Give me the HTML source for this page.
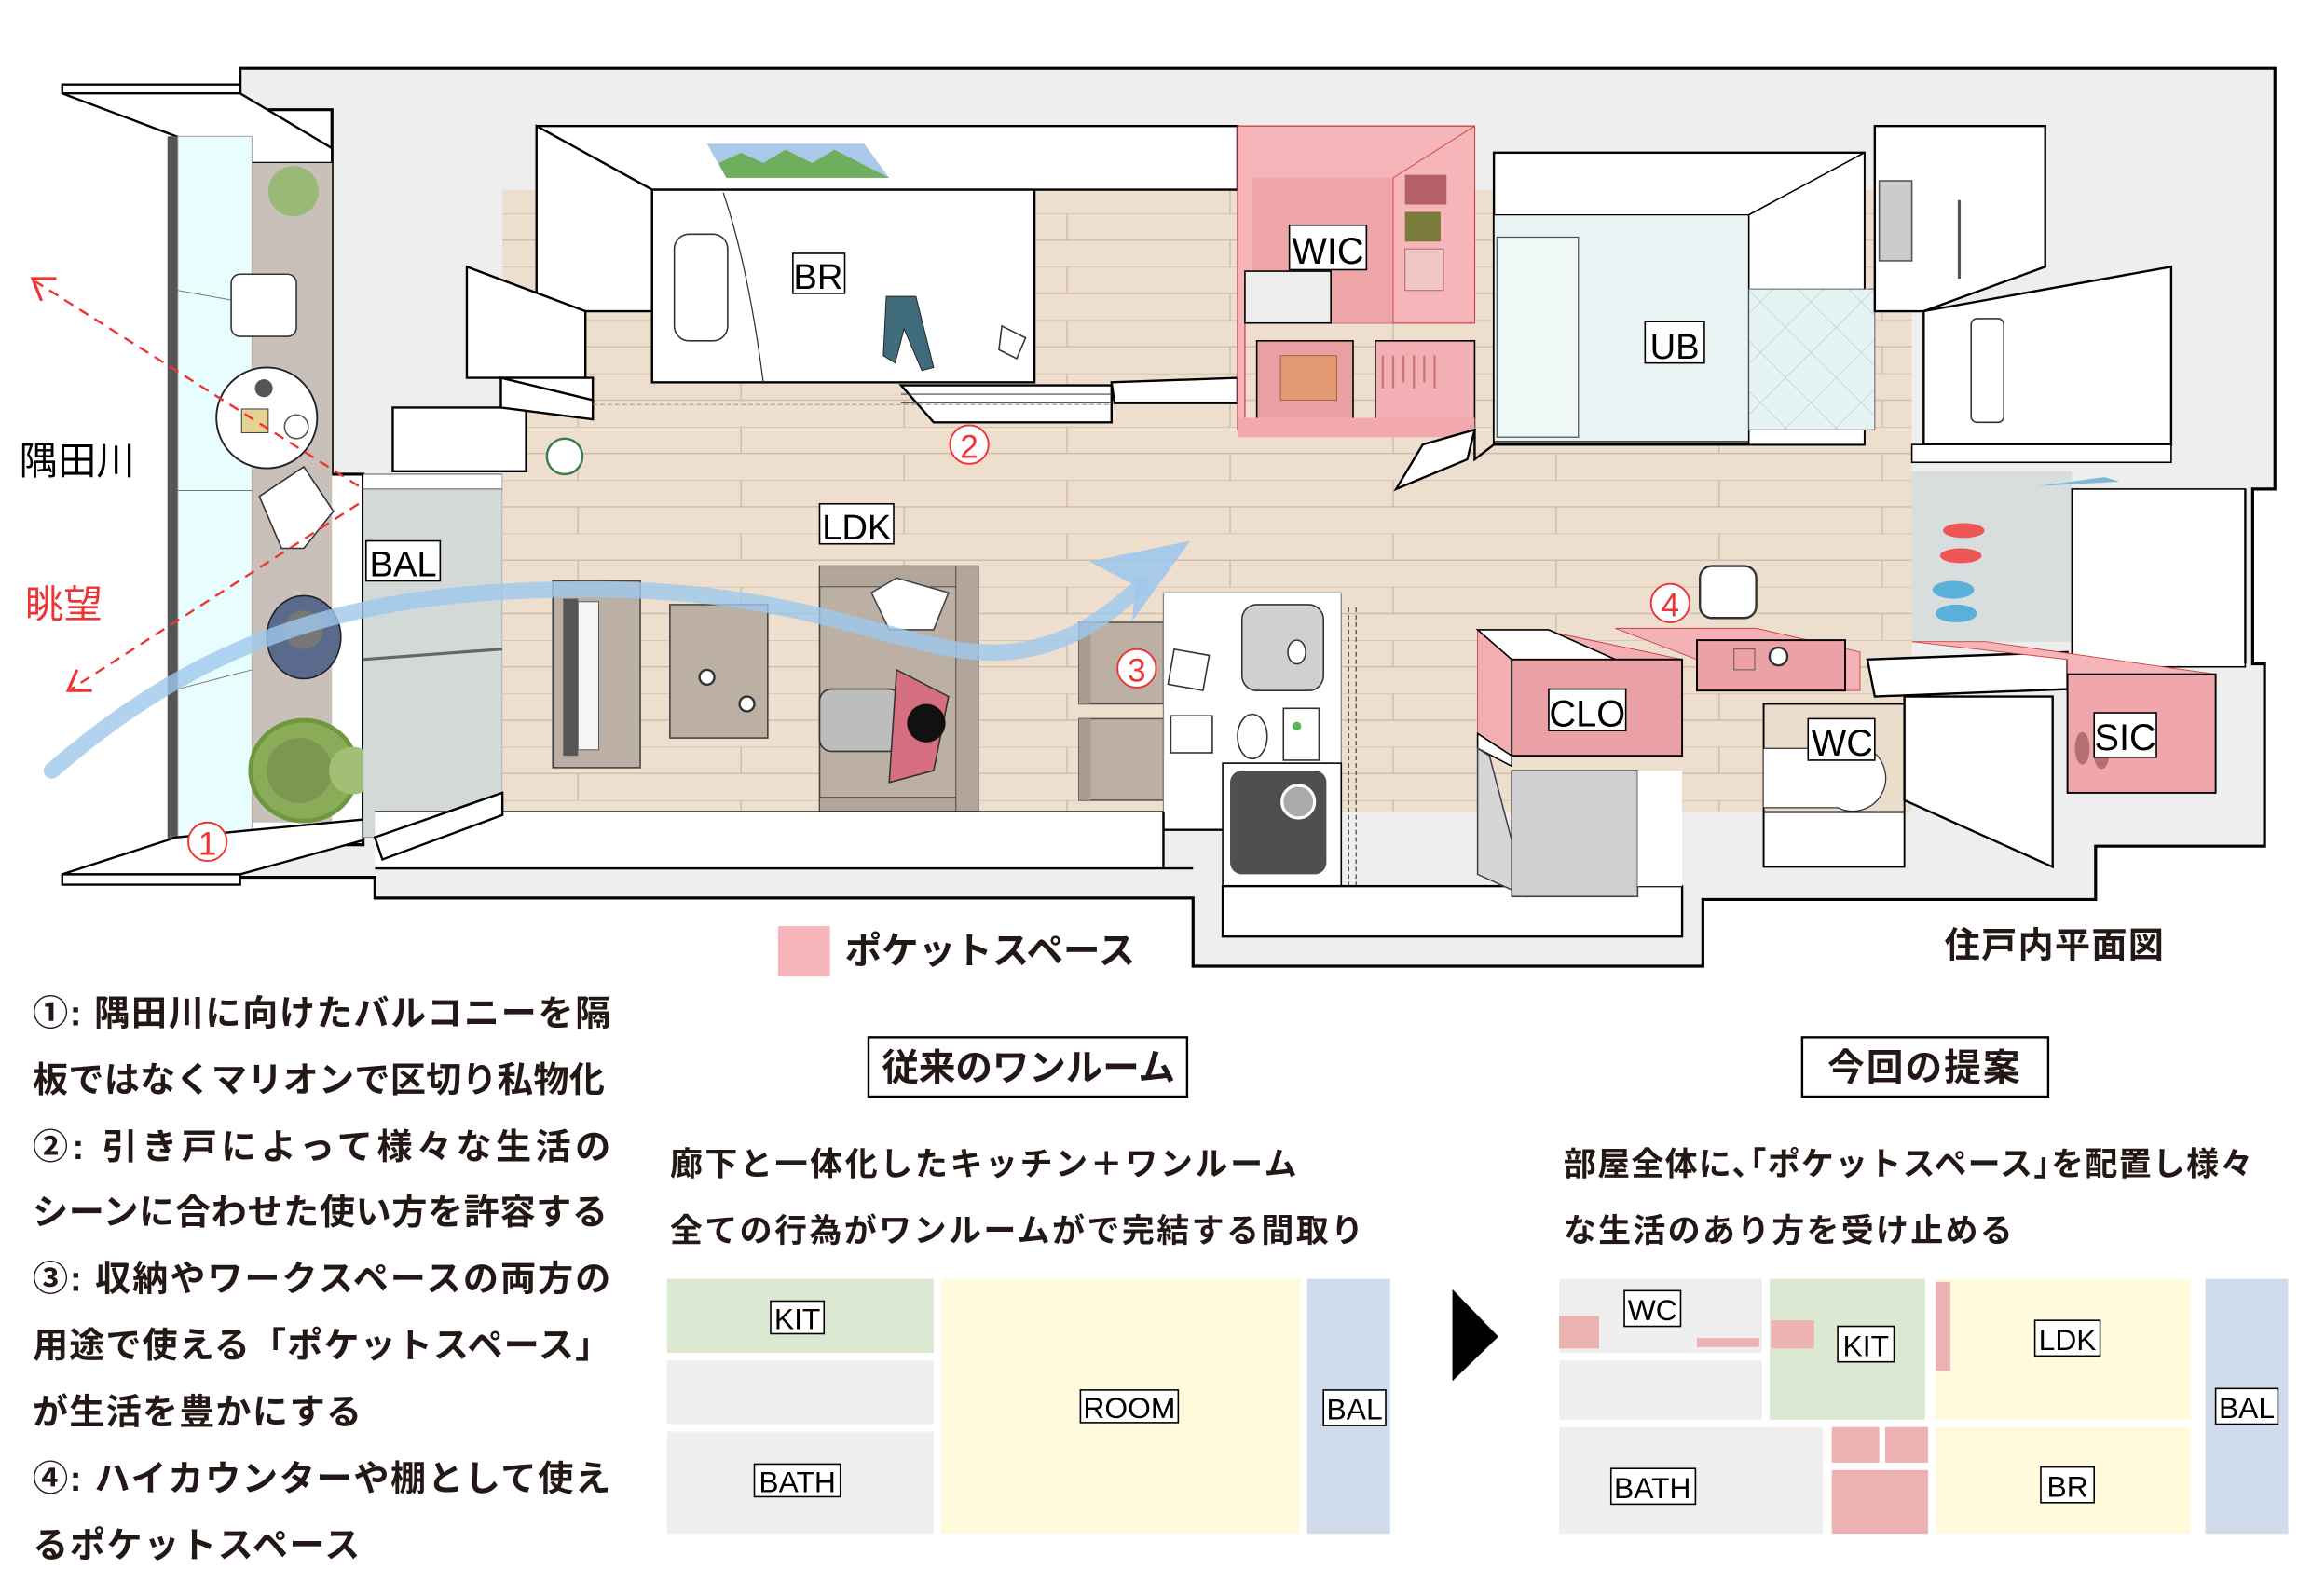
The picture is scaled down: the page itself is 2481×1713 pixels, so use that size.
<!DOCTYPE html>
<html><head><meta charset="utf-8"><style>
html,body{margin:0;padding:0;background:#fff}
svg{display:block}
.jp{font-family:"Liberation Sans","Noto Sans CJK JP",sans-serif;font-weight:bold;fill:#231815}
.lb{font-family:"Liberation Sans","Noto Sans CJK JP",sans-serif;fill:#000}
.w{fill:#fff;stroke:#000;stroke-width:1.5}
.g{fill:#eeeeee;stroke:#000;stroke-width:2}
.pk{fill:#f5b5b9;stroke:#c44;stroke-width:0.8}
.lbox{fill:#fff;stroke:#000;stroke-width:1}
</style></head><body>
<svg width="2481" height="1713" viewBox="0 0 1560 1077" preserveAspectRatio="none" xmlns="http://www.w3.org/2000/svg">
<defs>
<pattern id="wood" x="0" y="0" width="220" height="36" patternUnits="userSpaceOnUse">
<rect width="220" height="36" fill="#eddecd"/>
<line x1="0" y1="0" x2="220" y2="0" stroke="#c9b7a6" stroke-width="0.8"/>
<line x1="0" y1="18" x2="220" y2="18" stroke="#c9b7a6" stroke-width="0.8"/>
<line x1="60" y1="0" x2="60" y2="18" stroke="#c9b7a6" stroke-width="0.8"/>
<line x1="170" y1="18" x2="170" y2="36" stroke="#c9b7a6" stroke-width="0.8"/>
</pattern>
<pattern id="tile" width="24" height="24" patternUnits="userSpaceOnUse" patternTransform="rotate(45)">
<rect width="24" height="24" fill="#e6f3f3"/>
<path d="M0 0H24M0 0V24" stroke="#a9c6c8" stroke-width="0.6"/>
</pattern>
</defs>

<!-- outer wall -->
<polygon class="g" points="162,46 1535,46 1535,330 1520,330 1520,448 1528,448 1528,571 1414,571 1414,607 1149,607 1149,652 805,652 805,606 253,606 253,592 162,592 162,570 245,570 245,320 224,320 224,74 162,74"/>

<!-- balcony -->
<polygon class="w" points="42,57 162,57 162,63 42,63"/>
<polygon class="w" points="42,63 162,63 224,100 224,110 170,110 119,92"/>
<rect x="113" y="92" width="7" height="475" fill="#555"/>
<rect x="120" y="92" width="50" height="475" fill="#e8fdfd" stroke="#999" stroke-width="0.6"/>
<line x1="120" y1="196" x2="170" y2="205" stroke="#777" stroke-width="0.6"/>
<line x1="120" y1="331" x2="170" y2="331" stroke="#777" stroke-width="0.6"/>
<line x1="120" y1="465" x2="170" y2="452" stroke="#777" stroke-width="0.6"/>
<rect x="170" y="110" width="54" height="445" fill="#c8c0b9"/>
<circle cx="198" cy="129" r="17" fill="#9ab876"/>
<rect x="156" y="185" width="44" height="42" rx="6" fill="#fff" stroke="#333"/>
<circle cx="180" cy="282" r="34" fill="#fff" stroke="#222" stroke-width="1.2"/>
<circle cx="178" cy="262" r="6" fill="#555"/>
<rect x="163" y="276" width="18" height="16" fill="#e6d394" stroke="#333" stroke-width="0.6"/>
<circle cx="200" cy="288" r="8" fill="#fff" stroke="#555"/>
<polygon points="175,335 205,315 225,345 205,370 190,370" fill="#fff" stroke="#333"/>
<ellipse cx="205" cy="430" rx="25" ry="28" fill="#5a6a8d" stroke="#222"/>
<circle cx="205" cy="425" r="13" fill="#777"/>
<ellipse cx="205" cy="520" rx="36" ry="34" fill="#8aab58" stroke="#6e9840" stroke-width="3"/>
<circle cx="202" cy="520" r="22" fill="#7d9650"/>
<circle cx="238" cy="520" r="16" fill="#a1c076"/>
<polygon class="w" points="42,590 119,565 245,553 245,567 162,590"/>
<polygon class="w" points="42,590 162,590 162,597 42,597"/>

<!-- BAL area -->
<rect x="245" y="320" width="94" height="245" fill="#d3d9d6" stroke="#888" stroke-width="0.6"/>
<rect x="245" y="320" width="94" height="10" fill="#fff" stroke="#555" stroke-width="0.6"/>
<line x1="245" y1="445" x2="339" y2="438" stroke="#666" stroke-width="2"/>
<polygon class="w" points="253,565 339,535 339,548 258,580"/>

<!-- floor -->
<rect x="339" y="128" width="951" height="420" fill="url(#wood)"/>
<rect x="700" y="128" width="135" height="155" fill="url(#wood)"/>

<!-- white wall faces upper left -->
<polygon class="w" points="362,85 835,85 835,128 440,128 362,85"/>
<polygon class="w" points="362,85 440,128 440,210 362,210"/>
<polygon class="w" points="315,180 395,210 395,255 315,255"/>
<polygon class="w" points="338,255 400,255 400,275 338,275"/>
<polygon class="w" points="265,275 355,275 355,318 265,318"/>
<polygon class="w" points="338,255 400,270 400,283 338,275"/>
<!-- painting -->
<polygon points="477,97 583,97 600,120 490,120" fill="#a9c8ea"/>
<polygon points="485,110 500,103 515,110 530,101 548,110 563,101 600,120 490,120" fill="#6fae5c"/>
<!-- BR -->
<rect class="w" x="440" y="128" width="258" height="130"/>
<rect x="455" y="158" width="36" height="72" rx="10" fill="#fff" stroke="#333"/>
<path d="M488 130 Q505 180 515 258" fill="none" stroke="#333" stroke-width="0.8"/>
<path d="M598 200 L618 200 L630 248 L622 250 L610 222 L604 245 L596 240 Z" fill="#3f6b7a" stroke="#222" stroke-width="0.6"/>
<path d="M676 220 L692 228 L686 242 L674 236 Z" fill="#fff" stroke="#333"/>
<rect x="535" y="171" width="35" height="27" class="lbox"/>
<text x="552" y="195" class="lb" font-size="24" text-anchor="middle">BR</text>
<!-- sliding doors -->
<polygon class="w" points="608,260 750,260 750,285 630,285"/>
<line x1="608" y1="266" x2="750" y2="266" stroke="#444" stroke-width="0.7"/>
<line x1="608" y1="272" x2="750" y2="272" stroke="#444" stroke-width="0.7"/>
<polygon class="w" points="750,258 835,255 835,272 752,272"/>
<line x1="400" y1="273" x2="750" y2="273" stroke="#999" stroke-width="0.6" stroke-dasharray="3,2"/>
<circle cx="381" cy="308" r="12" fill="#fff" stroke="#3a7a4a" stroke-width="1.5"/>
<circle cx="654" cy="300" r="13" fill="#fff" stroke="#e33" stroke-width="1.2"/>
<text x="654" y="309" font-size="22" fill="#e33" text-anchor="middle" font-family="Liberation Sans">2</text>

<!-- WIC -->
<polygon class="pk" points="835,85 995,85 995,218 898,218 898,190 840,190 840,290 835,290"/>
<rect x="845" y="120" width="95" height="98" fill="#efa6a8"/>
<rect x="840" y="183" width="58" height="35" fill="#eee" stroke="#000" stroke-width="1"/>
<polygon points="940,120 995,85 995,218 940,218" fill="#f5b5b9" stroke="#c44" stroke-width="0.6"/>
<rect x="948" y="118" width="28" height="20" fill="#b56068"/>
<rect x="948" y="143" width="24" height="20" fill="#7a7a3a"/>
<rect x="948" y="168" width="26" height="28" fill="#eec6c6" stroke="#a66" stroke-width="0.6"/>
<rect x="870" y="152" width="52" height="30" class="lbox"/>
<text x="896" y="178" class="lb" font-size="25" text-anchor="middle">WIC</text>
<rect x="848" y="230" width="65" height="58" fill="#e8a0a3" stroke="#000" stroke-width="1"/>
<rect x="864" y="240" width="38" height="30" fill="#e39a72" stroke="#a06040" stroke-width="0.6"/>
<rect x="928" y="230" width="67" height="58" fill="#f2b0b4" stroke="#000" stroke-width="1"/>
<path d="M933 240 V262 M940 240 V262 M947 240 V258 M954 240 V262 M961 240 V258 M968 240 V262" stroke="#c77" stroke-width="1.5"/>
<polygon points="835,282 995,282 995,295 835,295" fill="#f2a9ad"/>
<polygon class="w" points="942,330 960,300 995,290 990,310"/>
<polyline points="995,290 995,310 1008,300 1258,300" fill="none" stroke="#000" stroke-width="1.5"/>

<!-- UB -->
<rect class="w" x="1008" y="103" width="250" height="197"/>
<rect x="1008" y="145" width="172" height="153" fill="#e9f3f3" stroke="#000" stroke-width="0.8"/>
<rect x="1010" y="160" width="55" height="135" fill="#f0f8f8" stroke="#555" stroke-width="0.8"/>
<polygon points="1180,145 1258,103 1258,300 1180,300" fill="#fff" stroke="#000" stroke-width="1"/>
<rect x="1180" y="195" width="85" height="95" fill="url(#tile)" stroke="#555" stroke-width="0.6"/>
<rect x="1110" y="217" width="40" height="28" class="lbox"/>
<text x="1130" y="242" class="lb" font-size="24" text-anchor="middle">UB</text>
<!-- right top -->
<polygon class="w" points="1265,85 1380,85 1380,180 1298,210 1265,210"/>
<rect x="1268" y="122" width="22" height="54" fill="#ccc" stroke="#555"/>
<line x1="1322" y1="135" x2="1322" y2="188" stroke="#555" stroke-width="2"/>
<polygon class="w" points="1298,210 1465,180 1465,300 1298,300"/>
<rect x="1330" y="215" width="22" height="70" rx="4" fill="#fff" stroke="#333"/>
<rect x="1290" y="300" width="175" height="12" fill="#fff" stroke="#000" stroke-width="1"/>
<!-- entrance -->
<rect x="1290" y="318" width="108" height="115" fill="#d8dddd"/>
<ellipse cx="1325" cy="358" rx="14" ry="5" fill="#e55"/>
<ellipse cx="1323" cy="375" rx="14" ry="5" fill="#e55"/>
<ellipse cx="1318" cy="398" rx="14" ry="6" fill="#5ab0d8"/>
<ellipse cx="1320" cy="414" rx="14" ry="6" fill="#5ab0d8"/>
<rect x="1398" y="330" width="117" height="120" fill="#fff" stroke="#000" stroke-width="1"/>
<polygon points="1375,328 1420,322 1430,325" fill="#7ab8d8"/>

<!-- furniture LDK -->
<rect x="373" y="392" width="59" height="126" fill="#bcafa3" stroke="#444"/>
<rect x="380" y="404" width="10" height="106" fill="#555"/>
<rect x="390" y="406" width="14" height="100" fill="#f5f5f5" stroke="#555" stroke-width="0.6"/>
<rect x="452" y="408" width="66" height="90" fill="#bcafa3" stroke="#444"/>
<circle cx="477" cy="457" r="5" fill="#fff" stroke="#333" stroke-width="1.5"/>
<circle cx="504" cy="475" r="5" fill="#fff" stroke="#333" stroke-width="1.5"/>
<rect x="553" y="382" width="107" height="171" fill="#bcafa3" stroke="#444"/>
<rect x="553" y="382" width="107" height="14" fill="#b2a599" stroke="#444" stroke-width="0.6"/>
<rect x="553" y="538" width="107" height="15" fill="#b2a599" stroke="#444" stroke-width="0.6"/>
<rect x="645" y="382" width="15" height="171" fill="#b2a599" stroke="#444" stroke-width="0.6"/>
<polygon points="588,400 605,390 640,400 630,425 600,425" fill="#fff" stroke="#444"/>
<rect x="553" y="465" width="55" height="42" rx="8" fill="#bdbdbd" stroke="#333"/>
<path d="M605 452 L640 470 L630 520 L600 528 Z" fill="#d67080" stroke="#333"/>
<circle cx="625" cy="488" r="13" fill="#111"/>
<rect x="553" y="340" width="50" height="27" class="lbox"/>
<text x="578" y="364" class="lb" font-size="24" text-anchor="middle">LDK</text>
<rect x="247" y="365" width="50" height="27" class="lbox"/>
<text x="272" y="389" class="lb" font-size="24" text-anchor="middle">BAL</text>
<ellipse cx="405" cy="572" rx="15" ry="9" fill="#fff" stroke="#333"/>

<!-- shelves 3 -->
<rect x="728" y="420" width="57" height="55" fill="#bcafa3" stroke="#555"/>
<rect x="728" y="485" width="57" height="55" fill="#bcafa3" stroke="#555"/>
<rect x="728" y="420" width="8" height="55" fill="#a89b90"/>
<rect x="728" y="485" width="8" height="55" fill="#a89b90"/>
<circle cx="767" cy="451" r="13" fill="#fff" stroke="#e33" stroke-width="1.2"/>
<text x="767" y="460" font-size="22" fill="#e33" text-anchor="middle" font-family="Liberation Sans">3</text>

<!-- kitchen -->
<rect x="785" y="400" width="120" height="160" fill="#fff" stroke="#888" stroke-width="0.8"/>
<rect x="838" y="408" width="55" height="58" rx="10" fill="#d0d0d0" stroke="#333"/>
<ellipse cx="875" cy="440" rx="6" ry="8" fill="#fff" stroke="#333"/>
<rect x="790" y="440" width="24" height="24" fill="#fff" stroke="#333" transform="rotate(10 802 452)"/>
<rect x="790" y="483" width="28" height="25" fill="#fff" stroke="#333"/>
<ellipse cx="845" cy="497" rx="10" ry="15" fill="#fff" stroke="#333"/>
<rect x="866" y="478" width="24" height="35" fill="#fff" stroke="#333"/>
<circle cx="875" cy="490" r="3" fill="#5b5"/>
<rect x="825" y="515" width="80" height="85" fill="#fff" stroke="#000" stroke-width="1"/>
<rect x="830" y="520" width="65" height="70" rx="8" fill="#4f4f4f"/>
<circle cx="876" cy="541" r="11" fill="#aaa" stroke="#fff" stroke-width="2"/>
<line x1="910" y1="410" x2="910" y2="632" stroke="#333" stroke-width="0.7" stroke-dasharray="3,2"/>
<line x1="915" y1="410" x2="915" y2="632" stroke="#333" stroke-width="0.7" stroke-dasharray="3,2"/>
<polyline points="785,548 785,560 825,560" fill="none" stroke="#000" stroke-width="1.5"/>
<rect x="825" y="598" width="310" height="34" fill="#fff" stroke="#000" stroke-width="1.5"/>
<line x1="253" y1="548" x2="785" y2="548" stroke="#000" stroke-width="1.5"/>
<rect x="253" y="548" width="532" height="38" fill="#fff"/>
<line x1="253" y1="586" x2="805" y2="586" stroke="#000" stroke-width="1.5"/>
<line x1="785" y1="548" x2="785" y2="586" stroke="#000" stroke-width="1.5"/>
<polygon class="w" points="253,565 339,535 339,550 258,580"/>

<!-- CLO -->
<polygon points="997,425 1040,425 1135,445 1135,510 1020,510 997,495" fill="#f3aeb2" stroke="#c44" stroke-width="0.6"/>
<polygon points="997,425 1045,425 1090,445 1020,445" fill="#fff" stroke="#000"/>
<rect x="1020" y="445" width="115" height="65" fill="#e9a1a5" stroke="#000" stroke-width="1.2"/>
<rect x="1045" y="465" width="52" height="28" class="lbox"/>
<text x="1071" y="490" class="lb" font-size="25" text-anchor="middle">CLO</text>
<polygon points="997,495 1020,510 1020,517 997,505" fill="#fff" stroke="#000"/>
<polygon points="997,505 1005,510 1030,605 997,590" fill="#d6d6d6" stroke="#444"/>
<rect x="1020" y="520" width="85" height="85" fill="#cfcfcf" stroke="#444"/>
<rect x="1105" y="520" width="30" height="78" fill="#fff"/>
<!-- 4 counter -->
<polygon points="1090,424 1185,424 1255,440 1255,466 1145,466 1145,445" fill="#f3b2b6" stroke="#c44" stroke-width="0.6"/>
<rect x="1145" y="432" width="100" height="34" fill="#eaa2a6" stroke="#000" stroke-width="1.2"/>
<rect x="1170" y="438" width="14" height="14" fill="#f0a0a4" stroke="#555" stroke-width="0.6"/>
<circle cx="1200" cy="443" r="6" fill="#fff" stroke="#333" stroke-width="1.5"/>
<rect x="1147" y="382" width="38" height="35" rx="8" fill="#fff" stroke="#333" stroke-width="1.5"/>
<circle cx="1127" cy="407" r="13" fill="#fff" stroke="#e33" stroke-width="1.2"/>
<text x="1127" y="416" font-size="22" fill="#e33" text-anchor="middle" font-family="Liberation Sans">4</text>
<!-- WC -->
<rect x="1190" y="475" width="95" height="73" fill="#ecdccb" stroke="#000" stroke-width="1.2"/>
<path d="M1190 505 H1260 A20 20 0 0 1 1240 545 H1190" fill="#fff" stroke="#333" stroke-width="0.8"/>
<rect x="1190" y="548" width="95" height="37" fill="#fff" stroke="#000" stroke-width="1.2"/>
<rect x="1220" y="485" width="45" height="28" class="lbox"/>
<text x="1243" y="510" class="lb" font-size="25" text-anchor="middle">WC</text>
<polygon class="w" points="1285,470 1385,470 1385,585 1285,540"/>
<polygon class="w" points="1260,445 1395,440 1395,465 1265,470"/>
<!-- SIC -->
<polygon points="1290,433 1340,433 1495,455 1495,535 1395,535 1395,445" fill="#f5b5b9" stroke="#c44" stroke-width="0.6"/>
<rect x="1395" y="455" width="100" height="80" fill="#f0a7ab" stroke="#000" stroke-width="1.2"/>
<ellipse cx="1405" cy="505" rx="5" ry="11" fill="#b57070"/>
<ellipse cx="1418" cy="510" rx="5" ry="9" fill="#b57070"/>
<rect x="1413" y="481" width="42" height="30" class="lbox"/>
<text x="1434" y="506" class="lb" font-size="25" text-anchor="middle">SIC</text>
<line x1="1515" y1="330" x2="1515" y2="448" stroke="#000" stroke-width="1.5"/>

<!-- blue arrow -->
<path d="M35,520 C150,420 260,395 420,398 C560,402 620,445 680,440 C720,436 745,418 770,395" fill="none" stroke="#9ec8ec" stroke-width="11" stroke-linecap="round" opacity="0.8"/>
<polygon points="735,379 803,365 764,419 766,395" fill="#9ec8ec" opacity="0.9"/>

<!-- red dashed view lines -->
<line x1="242" y1="328" x2="24" y2="190" stroke="#e33" stroke-width="1.5" stroke-dasharray="7,5"/>
<polyline points="38,188 22,188 28,203" fill="none" stroke="#e33" stroke-width="2"/>
<line x1="242" y1="340" x2="48" y2="465" stroke="#e33" stroke-width="1.5" stroke-dasharray="7,5"/>
<polyline points="52,452 46,466 62,466" fill="none" stroke="#e33" stroke-width="2"/>
<circle cx="140" cy="568" r="13" fill="#fff" stroke="#e33" stroke-width="1.2"/>
<text x="140" y="577" font-size="22" fill="#e33" text-anchor="middle" font-family="Liberation Sans">1</text>
<text x="13" y="320" class="lb" font-size="26" fill="#111">隅田川</text>
<text x="17" y="417" font-size="26" fill="#e33" font-family="Liberation Sans,'Noto Sans CJK JP',sans-serif">眺望</text>

<!-- legend -->
<rect x="525" y="625" width="35" height="34" fill="#f5b5b9"/>
<text x="570" y="650" class="jp" font-size="25" textLength="196">ポケットスペース</text>
<text x="1312" y="646" class="jp" font-size="24" textLength="148">住戸内平面図</text>

<!-- left notes -->
<g class="jp" font-size="24">
<text x="22" y="692" textLength="390">①: 隅田川に向けたバルコニーを隔</text>
<text x="22" y="737" textLength="386">板ではなくマリオンで区切り私物化</text>
<text x="22" y="782" textLength="390">②: 引き戸によって様々な生活の</text>
<text x="22" y="826" textLength="388">シーンに合わせた使い方を許容する</text>
<text x="22" y="871" textLength="390">③: 収納やワークスペースの両方の</text>
<text x="22" y="916" textLength="390">用途で使える「ポケットスペース」</text>
<text x="22" y="961" textLength="222">が生活を豊かにする</text>
<text x="22" y="1006" textLength="390">④: ハイカウンターや棚として使え</text>
<text x="22" y="1051" textLength="221">るポケットスペース</text>
</g>

<!-- titles -->
<rect x="586" y="700" width="215" height="40" fill="#fff" stroke="#000" stroke-width="1.5"/>
<text x="595" y="729" class="jp" font-size="25" textLength="198">従来のワンルーム</text>
<rect x="1216" y="700" width="166" height="40" fill="#fff" stroke="#000" stroke-width="1.5"/>
<text x="1233" y="729" class="jp" font-size="25" textLength="130">今回の提案</text>
<g class="jp" font-size="22">
<text x="452" y="793" textLength="423">廊下と一体化したキッチン＋ワンルーム</text>
<text x="452" y="838" textLength="468">全ての行為がワンルームがで完結する間取り</text>
<text x="1055" y="793" textLength="465">部屋全体に､｢ポケットスペース｣を配置し様々</text>
<text x="1055" y="838" textLength="303">な生活のあり方を受け止める</text>
</g>

<!-- left diagram -->
<rect x="450" y="863" width="180" height="50" fill="#dbe9d2"/>
<rect x="450" y="918" width="180" height="43" fill="#efefef"/>
<rect x="450" y="966" width="180" height="69" fill="#efefef"/>
<rect x="635" y="863" width="242" height="172" fill="#fefadb"/>
<rect x="882" y="863" width="56" height="172" fill="#d0dcec"/>
<g class="lb" font-size="20" text-anchor="middle">
<rect x="520" y="878" width="36" height="22" class="lbox"/><text x="538" y="897">KIT</text>
<rect x="509" y="988" width="58" height="22" class="lbox"/><text x="538" y="1007">BATH</text>
<rect x="729" y="938" width="66" height="22" class="lbox"/><text x="762" y="957">ROOM</text>
<rect x="893" y="938" width="42" height="24" class="lbox"/><text x="914" y="958">BAL</text>
</g>
<polygon points="980,870 1011,902 980,932" fill="#000"/>

<!-- right diagram -->
<rect x="1052" y="863" width="137" height="50" fill="#efefef"/>
<rect x="1052" y="918" width="137" height="40" fill="#efefef"/>
<rect x="1194" y="863" width="105" height="95" fill="#dbe9d2"/>
<rect x="1052" y="888" width="27" height="22" fill="#ecb1b1"/>
<rect x="1145" y="903" width="42" height="6" fill="#ecb1b1"/>
<rect x="1195" y="891" width="29" height="19" fill="#ecb1b1"/>
<rect x="1306" y="865" width="10" height="60" fill="#ecb1b1"/>
<rect x="1306" y="863" width="172" height="95" fill="#fefadb"/>
<rect x="1306" y="865" width="10" height="60" fill="#ecb1b1"/>
<rect x="1488" y="863" width="56" height="172" fill="#d0dcec"/>
<rect x="1052" y="963" width="178" height="72" fill="#efefef"/>
<rect x="1236" y="963" width="32" height="24" fill="#ecb1b1"/>
<rect x="1272" y="963" width="29" height="24" fill="#ecb1b1"/>
<rect x="1236" y="992" width="65" height="43" fill="#ecb1b1"/>
<rect x="1306" y="963" width="172" height="72" fill="#fefadb"/>
<g class="lb" font-size="20" text-anchor="middle">
<rect x="1096" y="871" width="38" height="24" class="lbox"/><text x="1115" y="891">WC</text>
<rect x="1240" y="895" width="38" height="24" class="lbox"/><text x="1259" y="915">KIT</text>
<rect x="1373" y="891" width="44" height="24" class="lbox"/><text x="1395" y="911">LDK</text>
<rect x="1087" y="991" width="57" height="24" class="lbox"/><text x="1115" y="1011">BATH</text>
<rect x="1377" y="990" width="36" height="24" class="lbox"/><text x="1395" y="1010">BR</text>
<rect x="1495" y="937" width="42" height="24" class="lbox"/><text x="1516" y="957">BAL</text>
</g>
</svg>
</body></html>
